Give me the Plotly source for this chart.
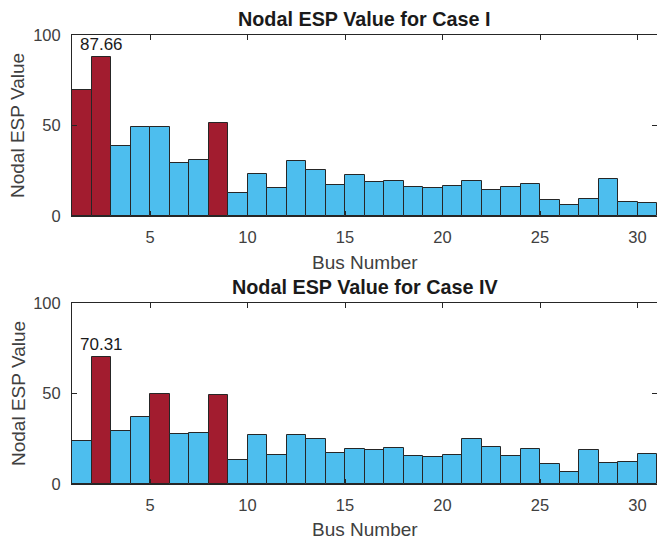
import plotly.graph_objects as go
from plotly.subplots import make_subplots

bus = list(range(1, 31))
esp_case1 = [69.6, 87.66, 38.7, 49.4, 49.4, 29.3, 30.8, 51.6, 12.5, 23.2,
             15.7, 30.2, 25.2, 17.1, 22.5, 19.0, 19.5, 15.8, 15.3, 16.4,
             19.5, 14.4, 16.2, 17.9, 8.8, 5.9, 9.2, 20.3, 7.7, 7.0]
esp_case4 = [23.5, 70.31, 29.4, 37.2, 49.7, 27.9, 28.3, 49.0, 13.3, 27.2,
             16.3, 27.2, 24.6, 17.2, 19.6, 19.0, 20.0, 15.2, 15.0, 16.3,
             25.0, 20.7, 15.7, 19.2, 11.3, 6.7, 18.7, 11.8, 12.2, 16.5]
red_case1 = [1, 2, 8]
red_case4 = [2, 5, 8]
titles = ["Nodal ESP Value for Case I", "Nodal ESP Value for Case IV"]
peak_labels = ["87.66", "70.31"]
x_ticks = [5, 10, 15, 20, 25, 30]
y_ticks = [0, 50, 100]

RED = "#A21C2F"
BLUE = "#4DBEEE"
EDGE = "#262626"
TXT = "#404040"
FONT = "Liberation Sans, Arial, Helvetica"

W, H = 657, 539
L, R, T, B = 72, 0, 35, 55
ph = H - T - B  # 449

def py(ypx):
    return (H - B - ypx) / ph

fig = make_subplots(rows=2, cols=1, vertical_spacing=0.0)
fig.update_layout(
    yaxis=dict(domain=[py(216), py(35)]),
    yaxis2=dict(domain=[py(484), py(303)]),
)

cases = [(esp_case1, red_case1), (esp_case4, red_case4)]
for i, (vals, reds) in enumerate(cases):
    colors = [RED if b in reds else BLUE for b in bus]
    fig.add_trace(go.Bar(x=bus, y=vals, width=1, offset=0,
                         marker=dict(color=colors, line=dict(color=EDGE, width=1)),
                         showlegend=False, hoverinfo="x+y"), row=i + 1, col=1)
    pk = max(range(len(vals)), key=lambda k: vals[k])
    fig.add_annotation(x=bus[pk] + 0.5, y=vals[pk], text=peak_labels[i],
                       xref=f"x{'' if i == 0 else i + 1}", yref=f"y{'' if i == 0 else i + 1}",
                       showarrow=False, yanchor="bottom", yshift=1,
                       font=dict(family=FONT, size=17, color="#1a1a1a"))

axis_common = dict(showline=True, linecolor=EDGE, linewidth=1, mirror="ticks",
                   ticks="inside", ticklen=5, tickcolor=EDGE, showgrid=False, zeroline=False,
                   tickfont=dict(family=FONT, size=16.5, color=TXT))
fig.update_xaxes(range=[1, 31], tickvals=x_ticks, ticklabelstandoff=6, **axis_common)
fig.update_yaxes(range=[0, 100], tickvals=y_ticks, ticklabelstandoff=7, **axis_common)

font_lbl = dict(family=FONT, size=19, color=TXT)
font_ttl = dict(family=FONT, size=19.8, color="#1a1a1a")
title_y = [19, 287]
xlabel_y = [262, 529]
ylabel_y = [126, 394]
for i in range(2):
    fig.add_annotation(x=0.5, y=py(title_y[i]), xref="paper", yref="paper",
                       text=f"<b>{titles[i]}</b>", showarrow=False,
                       xanchor="center", yanchor="middle", font=font_ttl)
    fig.add_annotation(x=0.5, y=py(xlabel_y[i]), xref="paper", yref="paper",
                       text="Bus Number", showarrow=False,
                       xanchor="center", yanchor="middle", font=font_lbl)
    fig.add_annotation(x=(18 - L) / (W - L - R), y=py(ylabel_y[i]), xref="paper", yref="paper",
                       text="Nodal ESP Value", showarrow=False, textangle=-90,
                       xanchor="center", yanchor="middle", font=font_lbl)

fig.update_layout(width=W, height=H, margin=dict(l=L, r=R, t=T, b=B),
                  plot_bgcolor="white", paper_bgcolor="white", bargap=0)

fig.write_html("out.html", config={"displayModeBar": False})
with open("out.html", "r", encoding="utf-8") as f:
    html = f.read()
html = html.replace("<head>", "<head><style>html,body{margin:0;padding:0;overflow:hidden;}</style>", 1)
with open("out.html", "w", encoding="utf-8") as f:
    f.write(html)
